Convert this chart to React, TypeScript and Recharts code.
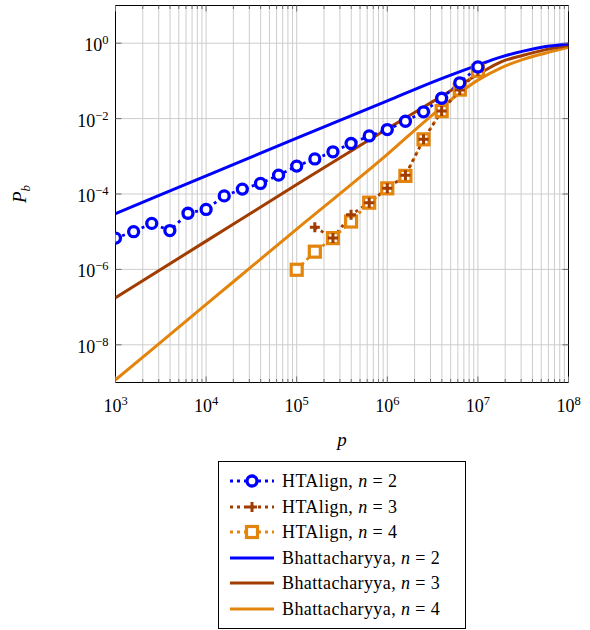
import { LineChart, Line, XAxis, YAxis, CartesianGrid, ReferenceArea, Legend } from 'recharts'

// p grid (log10) shared by the HTAlign runs
const htP2 = [3, 3.2, 3.4, 3.6, 3.8, 4, 4.2, 4.4, 4.6, 4.8, 5, 5.2, 5.4, 5.6, 5.8, 6, 6.2, 6.4, 6.6, 6.8, 7]
const htP3 = [5.2, 5.4, 5.6, 5.8, 6, 6.2, 6.4, 6.6, 6.8, 7]
const htP4 = [5, 5.2, 5.4, 5.6, 5.8, 6, 6.2, 6.4, 6.6, 6.8, 7]

// log10(P_b)
const htAlign2 = [-5.17, -5.0, -4.78, -4.97, -4.51, -4.41, -4.05, -3.87, -3.72, -3.5, -3.26, -3.07, -2.88, -2.66, -2.46, -2.29, -2.07, -1.82, -1.46, -1.05, -0.63]
const htAlign3 = [-4.88, -5.17, -4.55, -4.23, -3.85, -3.5, -2.55, -1.8, -1.24, -0.73]
const htAlign4 = [-6.01, -5.53, -5.17, -4.73, -4.23, -3.85, -3.52, -2.55, -1.8, -1.23, -0.73]

const bhattP = [3, 4, 5, 6, 6.5, 7, 7.25, 7.5, 7.75, 8]
const bhatt2 = [-4.52, -3.52, -2.52, -1.53, -1.03, -0.58, -0.37, -0.21, -0.09, -0.02]
const bhatt3 = [-6.75, -5.25, -3.75, -2.27, -1.55, -0.83, -0.5, -0.32, -0.17, -0.06]
const bhatt4 = [-8.93, -6.93, -4.93, -2.95, -1.9, -0.98, -0.66, -0.43, -0.26, -0.11]

const xMajor = [1e3, 1e4, 1e5, 1e6, 1e7, 1e8]
const yMajor = [1, 1e-2, 1e-4, 1e-6, 1e-8]
const xTicks = xMajor.flatMap((m, i) =>
  i === xMajor.length - 1 ? [m] : [m, 2 * m, 3 * m, 4 * m, 5 * m, 6 * m, 7 * m, 8 * m, 9 * m]
)

const BLUE = '#0000ff'
const BROWN = '#a13d00'
const ORANGE = '#e3840c'
const FONT = '"Liberation Serif", "Times New Roman", serif'

const PLOT_LEFT = 115.5
const PLOT_TOP = 5.5
const PLOT_W = 453
const PLOT_H = 377

const toPoints = (pExp: number[], pbExp: number[]) =>
  pExp.map((e, i) => ({ p: Math.pow(10, e), pb: Math.pow(10, pbExp[i]) }))

type MarkerKind = 'circle' | 'plus' | 'square' | 'none'

function Marker({ kind, cx, cy, color }: { kind: MarkerKind; cx: number; cy: number; color: string }) {
  if (kind === 'circle')
    return <circle cx={cx} cy={cy} r={5} fill="#fff" stroke={color} strokeWidth={3.3} />
  if (kind === 'plus')
    return (
      <g stroke={color} strokeWidth={3}>
        <line x1={cx - 5} y1={cy} x2={cx + 5} y2={cy} />
        <line x1={cx} y1={cy - 5} x2={cx} y2={cy + 5} />
      </g>
    )
  if (kind === 'square')
    return <rect x={cx - 5.5} y={cy - 5.5} width={11} height={11} fill="#fff" stroke={color} strokeWidth={3.2} />
  return null
}

const legendRows = [
  { label: 'HTAlign', n: 2, color: BLUE, marker: 'circle' as MarkerKind },
  { label: 'HTAlign', n: 3, color: BROWN, marker: 'plus' as MarkerKind },
  { label: 'HTAlign', n: 4, color: ORANGE, marker: 'square' as MarkerKind },
  { label: 'Bhattacharyya', n: 2, color: BLUE, marker: 'none' as MarkerKind },
  { label: 'Bhattacharyya', n: 3, color: BROWN, marker: 'none' as MarkerKind },
  { label: 'Bhattacharyya', n: 4, color: ORANGE, marker: 'none' as MarkerKind },
]

function LegendBox() {
  return (
    <div
      style={{
        position: 'relative',
        width: 246,
        height: 166,
        border: '1px solid #000',
        background: '#fff',
        fontFamily: FONT,
        fontSize: 18,
        color: '#000',
        letterSpacing: 0.4,
      }}
    >
      {legendRows.map((r, i) => {
        const top = 19 + i * 25.6 - 13
        const dotted = r.marker !== 'none'
        return (
          <div key={i} style={{ position: 'absolute', left: 0, top, height: 26, width: 246 }}>
            <svg width={64} height={26} style={{ position: 'absolute', left: 0, top: 0 }}>
              <line
                x1={11}
                y1={13}
                x2={55}
                y2={13}
                stroke={r.color}
                strokeWidth={3}
                strokeDasharray={dotted ? '3 4' : undefined}
              />
              <Marker kind={r.marker} cx={33} cy={13} color={r.color} />
            </svg>
            <span style={{ position: 'absolute', left: 63, top: 0, lineHeight: '26px', whiteSpace: 'nowrap' }}>
              {r.label}, <i>n</i> = {r.n}
            </span>
          </div>
        )
      })}
    </div>
  )
}

function XTick(props: any) {
  const { x, y, payload } = props
  const lg = Math.log10(payload.value)
  const exp = Math.round(lg)
  const major = Math.abs(lg - exp) < 1e-6
  const len = major ? 6 : 3.5
  return (
    <g>
      <line x1={x} y1={y} x2={x} y2={y - len} stroke="#6e6e6e" />
      <line x1={x} y1={y - PLOT_H} x2={x} y2={y - PLOT_H + len} stroke="#6e6e6e" />
      {major && (
        <text x={x} y={y + 29} textAnchor="middle" fontFamily={FONT} fontSize={18} fill="#000">
          10
          <tspan dy={-7} fontSize={12.5}>
            {exp}
          </tspan>
        </text>
      )}
    </g>
  )
}

function YTick(props: any) {
  const { x, y, payload } = props
  const exp = Math.round(Math.log10(payload.value))
  return (
    <g>
      <line x1={x} y1={y} x2={x + 6} y2={y} stroke="#6e6e6e" />
      <line x1={x + PLOT_W} y1={y} x2={x + PLOT_W - 6} y2={y} stroke="#6e6e6e" />
      <text x={x - 7} y={y + 8} textAnchor="end" fontFamily={FONT} fontSize={18} fill="#000">
        10
        <tspan dy={-7} fontSize={12.5}>
          {exp < 0 ? `\u2212${-exp}` : exp}
        </tspan>
      </text>
    </g>
  )
}

function XLabel() {
  return (
    <text x={PLOT_LEFT + PLOT_W / 2} y={446} textAnchor="middle" fontFamily={FONT} fontSize={19} fontStyle="italic">
      p
    </text>
  )
}

function YLabel() {
  const cx = 26
  const cy = PLOT_TOP + PLOT_H / 2
  return (
    <text
      x={cx}
      y={cy}
      textAnchor="middle"
      fontFamily={FONT}
      fontSize={19}
      fontStyle="italic"
      transform={`rotate(-90, ${cx}, ${cy})`}
    >
      P
      <tspan dy={4} fontSize={13}>
        b
      </tspan>
    </text>
  )
}

export default function App() {
  const series = [
    { key: 'b4', data: toPoints(bhattP, bhatt4), color: ORANGE, marker: 'none' as MarkerKind },
    { key: 'b3', data: toPoints(bhattP, bhatt3), color: BROWN, marker: 'none' as MarkerKind },
    { key: 'b2', data: toPoints(bhattP, bhatt2), color: BLUE, marker: 'none' as MarkerKind },
    { key: 'h4', data: toPoints(htP4, htAlign4), color: ORANGE, marker: 'square' as MarkerKind },
    { key: 'h3', data: toPoints(htP3, htAlign3), color: BROWN, marker: 'plus' as MarkerKind },
    { key: 'h2', data: toPoints(htP2, htAlign2), color: BLUE, marker: 'circle' as MarkerKind },
  ]

  return (
    <div style={{ position: 'absolute', left: 0, top: 0, width: 590, height: 630, background: '#fff' }}>
      <LineChart
        width={590}
        height={630}
        margin={{ top: PLOT_TOP, right: 590 - PLOT_LEFT - PLOT_W, left: PLOT_LEFT - 60, bottom: 630 - PLOT_TOP - PLOT_H - 60 }}
      >
        <CartesianGrid stroke="#cdcdcd" strokeWidth={1} />
        <XAxis
          dataKey="p"
          type="number"
          scale="log"
          domain={[1e3, 1e8]}
          allowDataOverflow
          ticks={xTicks}
          interval={0}
          height={60}
          tickSize={0}
          tickMargin={0}
          axisLine={false}
          tickLine={false}
          tick={<XTick />}
          label={<XLabel />}
        />
        <YAxis
          type="number"
          scale="log"
          domain={[1e-9, 10]}
          allowDataOverflow
          ticks={yMajor}
          interval={0}
          width={60}
          tickSize={0}
          tickMargin={0}
          axisLine={false}
          tickLine={false}
          tick={<YTick />}
          label={<YLabel />}
        />
        <ReferenceArea x1={1e3} x2={1e8} y1={1e-9} y2={10} fill="none" stroke="#000" strokeWidth={1} />
        {series.map((s) => (
          <Line
            key={s.key}
            data={s.data}
            dataKey="pb"
            type={s.marker === 'none' ? 'monotone' : 'linear'}
            stroke={s.color}
            strokeWidth={s.marker === 'none' ? 3 : 2.8}
            strokeDasharray={s.marker === 'none' ? undefined : '3 4'}
            dot={
              s.marker === 'none'
                ? false
                : (p: any) => <Marker key={p.index} kind={s.marker} cx={p.cx} cy={p.cy} color={s.color} />
            }
            activeDot={false}
            isAnimationActive={false}
          />
        ))}
        <Legend
          layout="vertical"
          align="center"
          verticalAlign="middle"
          wrapperStyle={{ left: 218, top: 461, width: 248, height: 168 }}
          content={() => <LegendBox />}
        />
      </LineChart>
    </div>
  )
}
